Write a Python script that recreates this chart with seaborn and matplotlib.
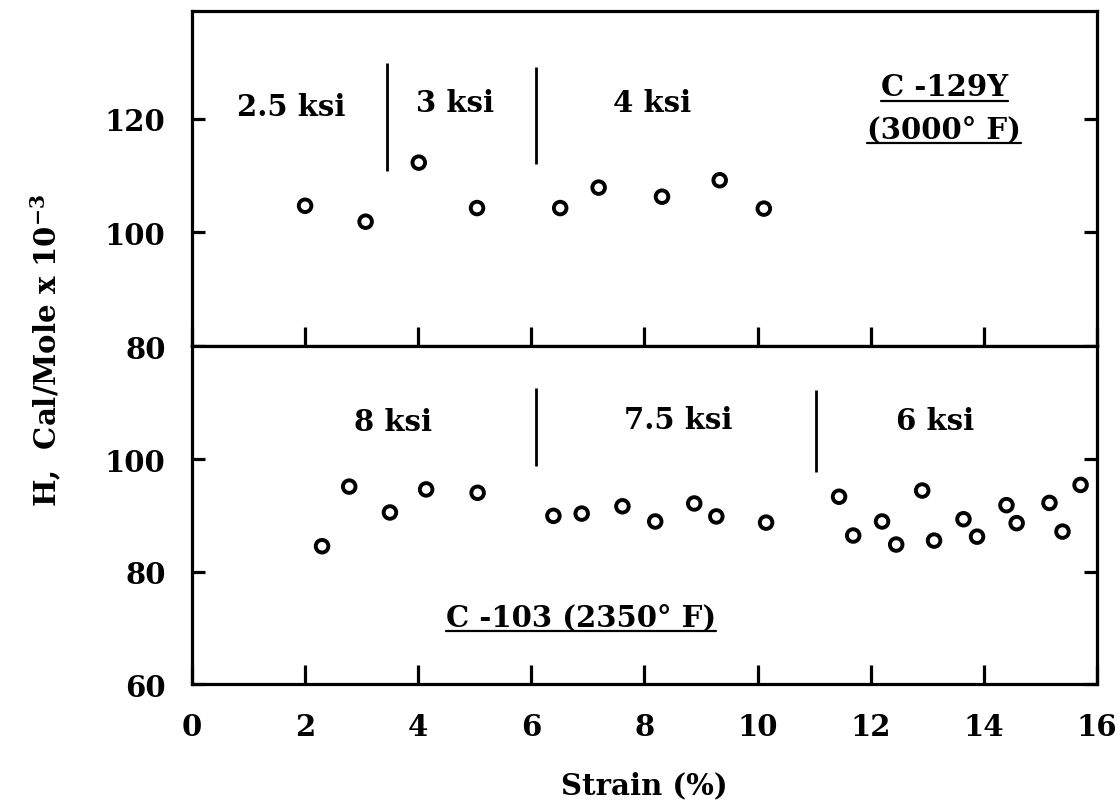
import matplotlib
matplotlib.use("Agg")
import matplotlib.pyplot as plt
import pandas as pd
import seaborn as sns
from matplotlib.lines import Line2D

# ---- data -------------------------------------------------------------
# C-129Y tested at 3000°F
strain_129y = [2.00, 3.07, 4.01, 5.04, 6.51, 7.19, 8.31, 9.33, 10.11]
h_129y = [104.7, 101.9, 112.3, 104.3, 104.3, 107.9, 106.3, 109.2, 104.2]

# C-103 tested at 2350°F
strain_103 = [2.30, 2.78, 3.50, 4.14, 5.05, 6.39, 6.89, 7.61, 8.19, 8.88, 9.27, 10.15,
              11.44, 11.69, 12.20, 12.45, 12.91, 13.12, 13.64, 13.88, 14.40, 14.58,
              15.16, 15.39, 15.71]
h_103 = [84.5, 95.1, 90.5, 94.6, 94.0, 89.9, 90.3, 91.6, 88.9, 92.1, 89.8, 88.7,
         93.3, 86.4, 88.9, 84.8, 94.4, 85.5, 89.3, 86.2, 91.8, 88.6,
         92.2, 87.1, 95.4]

# stress-change markers: strain, lower end, upper end
sep_129y_x = [3.45, 6.08]
sep_129y_lo = [110.9, 112.0]
sep_129y_hi = [129.8, 129.1]
sep_103_x = [6.08, 11.04]
sep_103_lo = [98.8, 97.7]
sep_103_hi = [112.6, 112.3]

stress_129y = ["2.5 ksi", "3 ksi", "4 ksi"]
stress_103 = ["8 ksi", "7.5 ksi", "6 ksi"]

x_ticks = [0, 2, 4, 6, 8, 10, 12, 14, 16]
top_yticks = [80, 100, 120]
bot_yticks = [60, 80, 100]

df_129y = pd.DataFrame({"strain": strain_129y, "H": h_129y})
df_103 = pd.DataFrame({"strain": strain_103, "H": h_103})

# ---- style ------------------------------------------------------------
sns.set_theme(style="white")
plt.rcParams["font.family"] = ["DejaVu Serif"]
plt.rcParams["font.weight"] = "bold"
plt.rcParams["mathtext.fontset"] = "custom"
plt.rcParams["mathtext.rm"] = "DejaVu Serif:bold"
plt.rcParams["mathtext.it"] = "DejaVu Serif:bold"
plt.rcParams["mathtext.bf"] = "DejaVu Serif:bold"
for key in ("text.color", "axes.labelcolor", "xtick.color", "ytick.color"):
    plt.rcParams[key] = "black"
FS = 21
LW = 2.3

fig = plt.figure(figsize=(11.18, 8.04), dpi=100)
ax_top = fig.add_axes([0.1717, 0.5684, 0.8095, 0.4166])
ax_bot = fig.add_axes([0.1717, 0.1480, 0.8095, 0.4204])

scatter_kw = dict(marker="o", s=82, facecolors="none", edgecolor="black",
                  linewidth=2.8, legend=False, zorder=3)
sns.scatterplot(data=df_129y, x="strain", y="H", ax=ax_top, **scatter_kw)
sns.scatterplot(data=df_103, x="strain", y="H", ax=ax_bot, **scatter_kw)

ax_top.vlines(sep_129y_x, sep_129y_lo, sep_129y_hi, color="black", lw=2.0)
ax_bot.vlines(sep_103_x, sep_103_lo, sep_103_hi, color="black", lw=2.0)

ax_top.set_xlim(0, 16)
ax_bot.set_xlim(0, 16)
ax_top.set_ylim(80, 139)
ax_bot.set_ylim(60, 120.1)

for ax, yt in ((ax_top, top_yticks), (ax_bot, bot_yticks)):
    ax.set_xticks(x_ticks)
    ax.set_yticks(yt)
    ax.set_yticklabels([str(v) for v in yt], fontsize=FS, fontweight="bold")
    ax.tick_params(axis="x", direction="in", length=13.5, width=LW,
                   top=False, bottom=True, pad=20)
    ax.tick_params(axis="y", direction="in", length=9.5, width=LW,
                   left=True, right=True, labelright=False, pad=19)
    for sp in ax.spines.values():
        sp.set_linewidth(LW)
        sp.set_color("black")
        sp.set_visible(True)
    ax.set_xlabel("")
    ax.set_ylabel("")
    ax.grid(False)

ax_top.tick_params(axis="x", labelbottom=False)
ax_bot.set_xticklabels([str(v) for v in x_ticks], fontsize=FS, fontweight="bold")
ax_bot.set_xlabel("Strain (%)", fontsize=FS, fontweight="bold", labelpad=21)

fig.text(0.041, 1 - 350 / 804, r"H,  Cal/Mole x 10$^{-3}$", rotation=90,
         ha="center", va="center", fontsize=FS, fontweight="bold")

# stress level annotations
for label, x, y in zip(stress_129y, [1.76, 4.66, 8.14], [120.7, 121.4, 121.4]):
    ax_top.text(x, y, label, ha="center", va="baseline", fontsize=FS, fontweight="bold")
for label, x, y in zip(stress_103, [3.55, 8.6, 13.14], [105.1, 105.6, 105.4]):
    ax_bot.text(x, y, label, ha="center", va="baseline", fontsize=FS, fontweight="bold")

# material / temperature captions, underlined
cap_kw = dict(ha="center", va="baseline", fontsize=FS, fontweight="bold")
captions = [
    ax_top.text(13.3, 124.2, "C -129Y", **cap_kw),
    ax_top.text(13.3, 116.8, "(3000° F)", **cap_kw),
    ax_bot.text(6.88, 70.5, "C -103 (2350° F)", **cap_kw),
]

fig.canvas.draw()
renderer = fig.canvas.get_renderer()
inv = fig.transFigure.inverted()
for t in captions:
    bb = t.get_window_extent(renderer)
    (x0, y0), (x1, _) = inv.transform([[bb.x0, bb.y0], [bb.x1, bb.y1]])
    fig.add_artist(Line2D([x0, x1], [y0, y0], transform=fig.transFigure,
                          color="black", lw=1.6))

fig.savefig("out.png", dpi=100, facecolor="white")
